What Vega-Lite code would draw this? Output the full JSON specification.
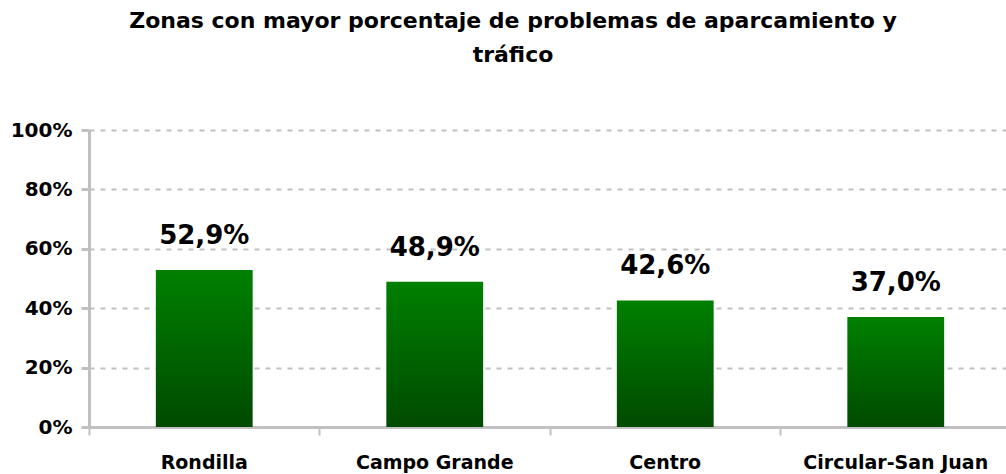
{
  "$schema": "https://vega.github.io/schema/vega-lite/v6.json",
  "autosize": "none",
  "width": 922,
  "height": 297,
  "padding": {"left": 89, "top": 130, "right": 0, "bottom": 47},
  "background": "white",
  "config": {
    "locale": {"number": {"decimal": ",", "thousands": ".", "grouping": [3], "currency": ["", " €"]}},
    "view": {"stroke": null},
    "font": "DejaVu Sans"
  },
  "title": {
    "text": ["Zonas con mayor porcentaje de problemas de aparcamiento y", "tráfico"],
    "fontSize": 22,
    "fontWeight": "bold",
    "font": "DejaVu Sans",
    "color": "#000000",
    "anchor": "middle",
    "dx": -37,
    "offset": 53,
    "lineHeight": 34
  },
  "data": {
    "values": [
      {"zona": "Rondilla", "pct": 0.529},
      {"zona": "Campo Grande", "pct": 0.489},
      {"zona": "Centro", "pct": 0.426},
      {"zona": "Circular-San Juan", "pct": 0.370}
    ]
  },
  "encoding": {
    "x": {
      "field": "zona",
      "type": "nominal",
      "sort": null,
      "scale": {"paddingInner": 0, "paddingOuter": 0},
      "axis": {
        "title": null,
        "labelAngle": 0,
        "labelFontSize": 19,
        "labelFontWeight": "bold",
        "labelColor": "#000000",
        "labelPadding": 18,
        "labelLimit": 400,
        "labelOverlap": false,
        "labelBound": false,
        "domainColor": "#c0c0c0",
        "domainWidth": 3,
        "tickColor": "#c0c0c0",
        "tickWidth": 2,
        "tickSize": 8,
        "bandPosition": 0,
        "grid": false
      }
    },
    "y": {
      "field": "pct",
      "type": "quantitative",
      "scale": {"domain": [0, 1], "nice": false},
      "axis": {
        "title": null,
        "format": ".0%",
        "values": [0, 0.2, 0.4, 0.6, 0.8, 1],
        "labelFontSize": 20,
        "labelFontWeight": "bold",
        "labelColor": "#000000",
        "labelPadding": 9,
        "domainColor": "#c0c0c0",
        "domainWidth": 3,
        "tickColor": "#c0c0c0",
        "tickWidth": 3,
        "tickSize": 8,
        "grid": true,
        "gridColor": "#c0c0c0",
        "gridDash": [5, 6],
        "gridWidth": 2
      }
    }
  },
  "layer": [
    {
      "mark": {
        "type": "bar",
        "width": {"band": 0.42},
        "color": {
          "gradient": "linear",
          "x1": 0, "y1": 0, "x2": 0, "y2": 1,
          "stops": [
            {"offset": 0, "color": "#008000"},
            {"offset": 1, "color": "#004a00"}
          ]
        }
      }
    },
    {
      "mark": {
        "type": "text",
        "baseline": "alphabetic",
        "dy": -26,
        "fontSize": 26,
        "fontWeight": "bold",
        "font": "DejaVu Sans",
        "color": "#000000"
      },
      "encoding": {
        "text": {"field": "pct", "type": "quantitative", "format": ".1%"}
      }
    }
  ]
}
